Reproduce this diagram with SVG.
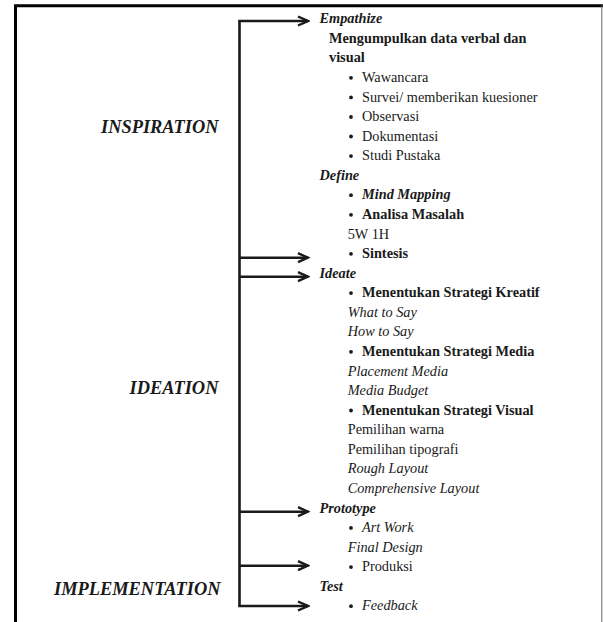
<svg xmlns="http://www.w3.org/2000/svg" width="603" height="622" viewBox="0 0 603 622">
  <style>
    text { font-family: "Liberation Serif", "Times New Roman", serif; fill: #1a1a1a; }
    .t { font-size: 14.3px; }
    .bi { font-weight: bold; font-style: italic; }
    .b { font-weight: bold; }
    .i { font-style: italic; }
    .phase { font-size: 18.4px; font-weight: bold; font-style: italic; }
    .wire { stroke: #1a1a1a; stroke-width: 2.6; fill: none; }
    .frame { stroke: #000; stroke-width: 3; fill: none; }
    .dot { fill: #1a1a1a; }
  </style>
  <defs>
    <marker id="chev" markerUnits="userSpaceOnUse" viewBox="0 0 14 12" markerWidth="14" markerHeight="12" refX="12" refY="6" orient="auto">
      <path d="M2,1.5 L12,6 L2,10.5" fill="none" stroke="#1a1a1a" stroke-width="2.4" stroke-linejoin="miter"/>
    </marker>
    <circle id="blt" r="1.9" class="dot"/>
  </defs>

  <rect width="603" height="622" fill="#ffffff"/>

  <!-- outer frame: heavy top and left rules, light right rule -->
  <g id="frame">
    <path class="frame" d="M15.5,622 V5.7 H603"/>
    <line x1="601.8" y1="5" x2="601.8" y2="622" stroke="#666" stroke-width="1"/>
  </g>

  <!-- phase labels -->
  <g id="inspiration"><text class="phase" x="101" y="133">INSPIRATION</text></g>
  <g id="ideation"><text class="phase" x="129.5" y="393.5">IDEATION</text></g>
  <g id="implementation"><text class="phase" x="54" y="595">IMPLEMENTATION</text></g>

  <!-- spine and branch arrows -->
  <g id="connectors">
    <path class="wire" d="M239.5,606 V21"/>
    <line class="wire" x1="238.2" y1="21" x2="308" y2="21" marker-end="url(#chev)"/>
    <line class="wire" x1="239.5" y1="257.7" x2="308" y2="257.7" marker-end="url(#chev)"/>
    <line class="wire" x1="239.5" y1="276.7" x2="308" y2="276.7" marker-end="url(#chev)"/>
    <line class="wire" x1="239.5" y1="511.7" x2="308" y2="511.7" marker-end="url(#chev)"/>
    <line class="wire" x1="239.5" y1="565.7" x2="308" y2="565.7" marker-end="url(#chev)"/>
    <line class="wire" x1="238.2" y1="606" x2="308" y2="606" marker-end="url(#chev)"/>
  </g>

  <g id="empathize">
    <text class="t bi" x="319.5" y="23.3">Empathize</text>
    <text class="t b" x="329" y="42.9">Mengumpulkan data verbal dan</text>
    <text class="t b" x="329" y="62.4">visual</text>
    <use href="#blt" x="351" y="77.8"/><text class="t" x="362" y="82">Wawancara</text>
    <use href="#blt" x="351" y="97.4"/><text class="t" x="362" y="101.6">Survei/ memberikan kuesioner</text>
    <use href="#blt" x="351" y="117"/><text class="t" x="362" y="121.2">Observasi</text>
    <use href="#blt" x="351" y="136.5"/><text class="t" x="362" y="140.7">Dokumentasi</text>
    <use href="#blt" x="351" y="156.1"/><text class="t" x="362" y="160.3">Studi Pustaka</text>
  </g>

  <g id="define">
    <text class="t bi" x="319.5" y="179.9">Define</text>
    <use href="#blt" x="351" y="195.2"/><text class="t bi" x="362" y="199.4">Mind Mapping</text>
    <use href="#blt" x="351" y="214.8"/><text class="t b" x="362" y="219">Analisa Masalah</text>
    <text class="t" x="347.7" y="238.6">5W 1H</text>
    <use href="#blt" x="351" y="253.9"/><text class="t b" x="362" y="258.1">Sintesis</text>
  </g>

  <g id="ideate">
    <text class="t bi" x="319.5" y="277.7">Ideate</text>
    <use href="#blt" x="351" y="293.1"/><text class="t b" x="362" y="297.3">Menentukan Strategi Kreatif</text>
    <text class="t i" x="347.7" y="316.9">What to Say</text>
    <text class="t i" x="347.7" y="336.4">How to Say</text>
    <use href="#blt" x="351" y="351.8"/><text class="t b" x="362" y="356">Menentukan Strategi Media</text>
    <text class="t i" x="347.7" y="375.6">Placement Media</text>
    <text class="t i" x="347.7" y="395.1">Media Budget</text>
    <use href="#blt" x="351" y="410.5"/><text class="t b" x="362" y="414.7">Menentukan Strategi Visual</text>
    <text class="t" x="347.7" y="434.3">Pemilihan warna</text>
    <text class="t" x="347.7" y="453.8">Pemilihan tipografi</text>
    <text class="t i" x="347.7" y="473.4">Rough Layout</text>
    <text class="t i" x="347.7" y="493">Comprehensive Layout</text>
  </g>

  <g id="prototype">
    <text class="t bi" x="319.5" y="512.6">Prototype</text>
    <use href="#blt" x="351" y="527.9"/><text class="t i" x="362" y="532.1">Art Work</text>
    <text class="t i" x="347.7" y="551.7">Final Design</text>
    <use href="#blt" x="351" y="567.1"/><text class="t" x="362" y="571.3">Produksi</text>
  </g>

  <g id="test">
    <text class="t bi" x="319.5" y="590.8">Test</text>
    <use href="#blt" x="351" y="606.2"/><text class="t i" x="362" y="610.4">Feedback</text>
  </g>
</svg>
